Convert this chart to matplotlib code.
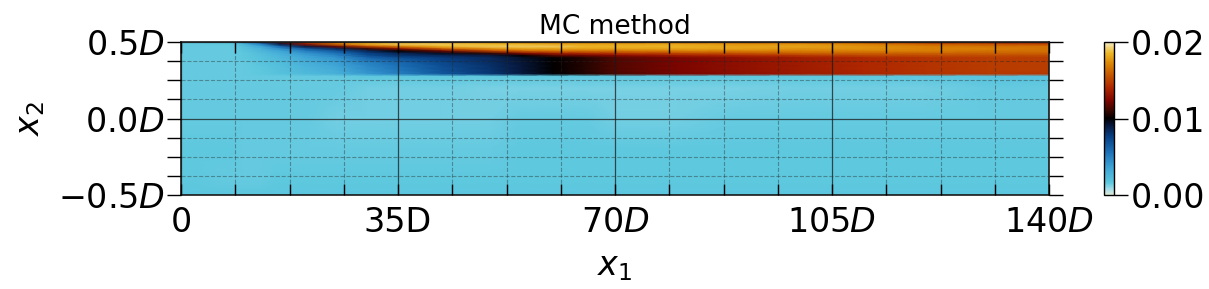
import numpy as np
import matplotlib
matplotlib.use("Agg")
import matplotlib.pyplot as plt
from matplotlib.colors import LinearSegmentedColormap
from matplotlib.ticker import MultipleLocator

# ---- data ----
title = "MC method"
x1_cols = [0, 8, 10, 13, 16, 20, 25, 30, 35, 42, 50, 55, 60, 65, 70, 80, 90, 100, 110, 120, 130, 140]
x2_rows = [0.5, 0.485, 0.47, 0.455, 0.44, 0.425, 0.41, 0.395, 0.37, 0.34, 0.31, 0.29, 0.275,
           0.2, 0.0, -0.2, -0.4, -0.5]
# values in units of 1e-3, one list per x2 row (top to bottom)
row_050 = [1.5, 1.6, 3.5, 8.0, 12.0, 15.0, 17.0, 17.5, 18.0, 18.0, 17.5, 17.0, 17.0, 16.5, 16.5, 16.0, 15.5, 15.0, 14.5, 13.5, 13.0, 12.5]
row_048 = [1.5, 1.6, 2.5, 5.0, 9.0, 13.0, 16.5, 18.5, 19.0, 19.0, 18.5, 18.5, 18.0, 18.0, 18.0, 18.0, 17.5, 17.5, 17.0, 16.0, 15.5, 15.0]
row_047 = [1.5, 1.5, 2.0, 3.5, 6.0, 9.0, 12.0, 15.0, 17.0, 18.5, 19.0, 19.0, 19.0, 18.5, 18.5, 18.5, 18.0, 18.0, 17.5, 17.0, 16.5, 16.5]
row_045 = [1.5, 1.5, 1.8, 2.8, 4.5, 6.5, 8.5, 11.0, 13.0, 16.0, 17.5, 18.0, 18.0, 18.0, 18.0, 18.0, 18.0, 17.5, 17.5, 17.0, 17.0, 16.5]
row_044 = [1.5, 1.5, 1.7, 2.5, 3.5, 5.0, 6.5, 8.5, 10.0, 12.0, 15.0, 16.0, 16.5, 16.5, 16.5, 17.0, 17.0, 17.0, 17.0, 17.0, 16.5, 16.5]
row_042 = [1.5, 1.5, 1.6, 2.2, 3.0, 4.2, 5.5, 7.5, 8.5, 9.5, 11.0, 12.5, 13.5, 14.0, 14.5, 15.0, 15.5, 16.0, 16.0, 16.0, 16.0, 16.0]
row_041 = [1.5, 1.5, 1.6, 2.0, 2.7, 3.7, 4.8, 7.0, 8.0, 8.5, 9.0, 10.0, 11.5, 12.0, 12.5, 13.5, 14.0, 14.5, 15.0, 15.2, 15.3, 15.3]
row_039 = [1.5, 1.5, 1.6, 1.9, 2.5, 3.3, 4.2, 6.0, 7.0, 7.8, 8.5, 9.3, 10.0, 10.7, 11.5, 12.3, 12.9, 13.5, 14.0, 14.4, 14.7, 14.8]
row_037 = [1.5, 1.5, 1.5, 1.8, 2.3, 3.0, 3.8, 5.0, 6.0, 7.3, 8.3, 9.2, 10.0, 10.7, 11.5, 12.3, 12.9, 13.5, 14.0, 14.4, 14.7, 14.8]
row_034 = [1.5, 1.5, 1.5, 1.7, 2.1, 2.7, 3.4, 4.6, 5.6, 7.0, 8.2, 9.1, 10.0, 10.7, 11.5, 12.3, 12.9, 13.5, 14.0, 14.4, 14.7, 14.8]
row_031 = [1.5, 1.5, 1.5, 1.6, 2.0, 2.5, 3.1, 4.3, 5.3, 6.8, 8.1, 9.1, 10.0, 10.7, 11.5, 12.3, 12.9, 13.5, 14.0, 14.4, 14.7, 14.8]
row_029 = [1.5, 1.5, 1.5, 1.6, 1.9, 2.3, 2.9, 4.0, 5.0, 6.6, 8.0, 9.0, 9.9, 10.6, 11.4, 12.2, 12.8, 13.4, 13.9, 14.3, 14.6, 14.6]
row_027 = [1.5, 1.5, 1.5, 1.5, 1.5, 1.5, 1.5, 1.6, 1.6, 1.6, 1.6, 1.6, 1.6, 1.6, 1.6, 1.6, 1.6, 1.6, 1.6, 1.7, 1.8, 1.9]
row_020 = [1.5, 1.5, 1.5, 1.5, 1.5, 1.5, 1.5, 1.4, 1.4, 1.4, 1.3, 1.3, 1.3, 1.3, 1.3, 1.3, 1.3, 1.4, 1.4, 1.4, 1.5, 1.5]
row_000 = [1.5, 1.5, 1.5, 1.5, 1.5, 1.5, 1.4, 1.4, 1.4, 1.4, 1.4, 1.5, 1.5, 1.5, 1.4, 1.4, 1.5, 1.5, 1.5, 1.5, 1.5, 1.5]
row_m02 = [1.6, 1.6, 1.5, 1.5, 1.5, 1.5, 1.5, 1.5, 1.5, 1.5, 1.5, 1.6, 1.6, 1.6, 1.6, 1.6, 1.6, 1.6, 1.6, 1.6, 1.6, 1.6]
row_m04 = [1.6, 1.5, 1.5, 1.5, 1.6, 1.6, 1.6, 1.6, 1.6, 1.6, 1.6, 1.6, 1.6, 1.6, 1.6, 1.6, 1.6, 1.6, 1.6, 1.6, 1.6, 1.6]
row_m05 = [1.7, 1.7, 1.7, 1.7, 1.7, 1.7, 1.7, 1.7, 1.7, 1.7, 1.7, 1.7, 1.7, 1.7, 1.7, 1.7, 1.7, 1.7, 1.7, 1.7, 1.7, 1.7]

x_tick_vals = [0, 35, 70, 105, 140]
x_tick_labels = ["0", "35D", r"$70D$", r"$105D$", r"$140D$"]
y_tick_vals = [-0.5, 0.0, 0.5]
y_tick_labels = [r"$-0.5D$", r"$0.0D$", r"$0.5D$"]
cbar_ticks = [0.0, 0.01, 0.02]
cbar_labels = ["0.00", "0.01", "0.02"]
vmin, vmax = 0.0, 0.02

# ---- colormap ----
cmap = LinearSegmentedColormap.from_list("cyan_black_orange", [
    (0.00, (0.88, 0.92, 0.85)),
    (0.04, (0.62, 0.86, 0.92)),
    (0.08, (0.36, 0.78, 0.87)),
    (0.18, (0.24, 0.64, 0.84)),
    (0.28, (0.11, 0.44, 0.72)),
    (0.38, (0.03, 0.25, 0.52)),
    (0.45, (0.03, 0.10, 0.25)),
    (0.50, (0.00, 0.00, 0.00)),
    (0.56, (0.25, 0.03, 0.00)),
    (0.62, (0.50, 0.02, 0.00)),
    (0.70, (0.68, 0.15, 0.00)),
    (0.78, (0.77, 0.33, 0.00)),
    (0.86, (0.86, 0.52, 0.02)),
    (0.93, (0.93, 0.72, 0.15)),
    (1.00, (0.96, 0.93, 0.78)),
])

field = np.array([row_050, row_048, row_047, row_045, row_044, row_042, row_041, row_039,
                  row_037, row_034, row_031, row_029, row_027, row_020, row_000,
                  row_m02, row_m04, row_m05]) * 1e-3
X, Y = np.meshgrid(np.array(x1_cols, float), np.array(x2_rows, float))

W, H, DPI = 1209, 289, 100
fig = plt.figure(figsize=(W / DPI, H / DPI), dpi=DPI)
ax = fig.add_axes([181 / W, 1 - 195 / H, (1049 - 181) / W, (195 - 42) / H])
cax = fig.add_axes([1104 / W, 1 - 195 / H, 10 / W, (195 - 42) / H])

mesh = ax.pcolormesh(X, Y, field, cmap=cmap, vmin=vmin, vmax=vmax, shading="gouraud",
                     rasterized=True)
ax.set_xlim(0, 140)
ax.set_ylim(-0.5, 0.5)

fs = 24
ax.set_xticks(x_tick_vals)
ax.set_xticklabels(x_tick_labels, fontsize=fs)
ax.set_yticks(y_tick_vals)
ax.set_yticklabels(y_tick_labels, fontsize=fs)
ax.xaxis.set_minor_locator(MultipleLocator(8.75))
ax.yaxis.set_minor_locator(MultipleLocator(0.125))
ax.tick_params(axis="x", which="both", direction="in", top=True, bottom=True,
               length=8, width=1.0, pad=8)
ax.tick_params(axis="y", which="both", direction="out", left=True, right=True,
               length=10, width=1.0, pad=2)
ax.grid(True, which="major", color="0.1", linestyle="-", linewidth=0.9, alpha=0.75)
ax.grid(True, which="minor", color="0.15", linestyle="--", linewidth=0.8, alpha=0.4)
ax.set_axisbelow(False)
for s in ax.spines.values():
    s.set_linewidth(1.2)
    s.set_color("0.1")

ax.set_title(title, fontsize=19, pad=6)
ax.set_xlabel(r"$x_1$", fontsize=fs, labelpad=8)
ax.set_ylabel(r"$x_2$", fontsize=fs, labelpad=8)

cb = fig.colorbar(mesh, cax=cax)
cb.set_ticks(cbar_ticks)
cb.set_ticklabels(cbar_labels)
cb.ax.tick_params(direction="out", length=10, width=1.0, labelsize=fs, pad=2)
cb.outline.set_linewidth(1.0)

fig.savefig("out.png", dpi=DPI)
